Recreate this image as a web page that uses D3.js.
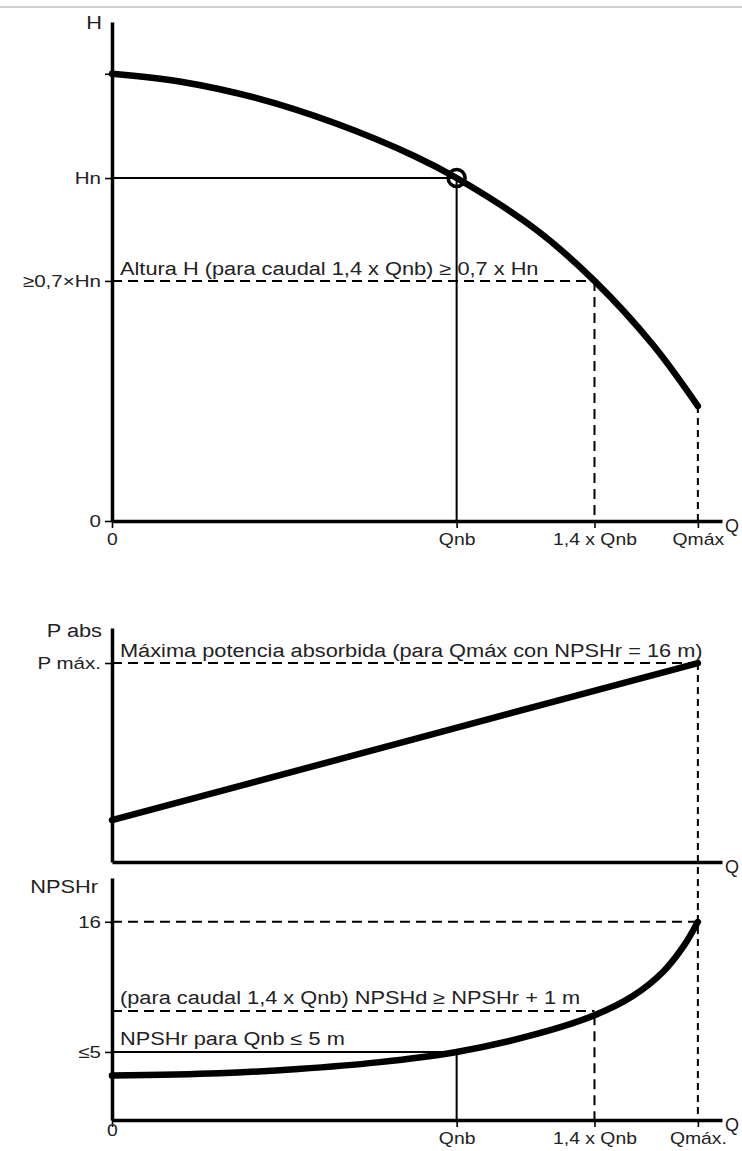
<!DOCTYPE html>
<html>
<head>
<meta charset="utf-8">
<script src="https://cdn.jsdelivr.net/npm/d3@7"></script>
<style>
  body { margin: 0; background: #fff; }
  svg { display: block; }
  text { font-family: "Liberation Sans", Arial, sans-serif; fill: #222; }
</style>
</head>
<body>
<svg id="chart" width="742" height="1151"></svg>
<script>
// ---- Flow axis, in multiples of the nominal flow Qnb ----
const flowTicks = [0, 1, 1.4, 1.7];
const flowTickLabelsUpper = ["0", "Qnb", "1,4 x Qnb", "Qmáx"];
const flowTickLabelsLower = ["0", "Qnb", "1,4 x Qnb", "Qmáx."];
const FLOW_AXIS_END = 1.77;
const Q_NB = 1, Q_14 = 1.4, Q_MAX = 1.7;

// ---- Head curve H(Q), in multiples of Hn ----
const headFlow   = [0,     0.2,   0.42,  0.65,  0.88,  1.0, 1.23, 1.4, 1.57,  1.7];
const headValues = [1.304, 1.281, 1.233, 1.159, 1.063, 1.0, 0.85, 0.7, 0.513, 0.335];
const headTicks = [0, 0.7, 1, 1.304];
const headTickLabels = ["0", "≥0,7×Hn", "Hn", ""];
const HEAD_AXIS_TOP = 1.455;
const HN = 1, H_MIN_RATIO = 0.7;

// ---- Absorbed power P(Q), in multiples of P máx ----
const powerFlow   = [0,    0.85,  1.7];
const powerValues = [0.21, 0.605, 1.0];
const powerTicks = [1];
const powerTickLabels = ["P máx."];
const POWER_AXIS_TOP = 1.176;
const P_MAX = 1;

// ---- Required NPSH curve NPSHr(Q), metres ----
const npshFlow   = [0,   0.31, 0.54, 0.77, 1.0, 1.23, 1.4, 1.51, 1.6,  1.66, 1.7];
const npshValues = [3.0, 3.2,  3.56, 4.12, 5.0, 6.5,  8.1, 9.7,  11.8, 14.0, 16.0];
const npshTicks = [5, 16];
const npshTickLabels = ["≤5", "16"];
const NPSH_AXIS_MIN = -0.75, NPSH_AXIS_MAX = 19.7;
const NPSH_NB = 5, NPSH_QMAX = 16, NPSHD_LEVEL = 8.47;

// ---- Annotation texts ----
const headNote  = "Altura H (para caudal 1,4 x Qnb) ≥ 0,7 x Hn";
const powerNote = "Máxima potencia absorbida (para Qmáx con NPSHr = 16 m)";
const npshdNote = "(para caudal 1,4 x Qnb) NPSHd ≥ NPSHr + 1 m";
const npshNote  = "NPSHr para Qnb ≤ 5 m";

// ---------------------------------------------------------------
const svg = d3.select("#chart");
const STRETCH = 1.21;            // glyphs are drawn wide
const AXIS_W = 3.5, CURVE_W = 6.5, THIN_W = 2;

// widen text horizontally around its own anchor point
function stretch(sel, k = STRETCH) {
  sel.each(function () {
    const t = d3.select(this);
    const x = +t.attr("x") || 0;
    t.attr("transform", `translate(${x * (1 - k)},0) scale(${k},1)`);
  });
}

// thin grey rule along the top of the page
svg.append("rect").attr("x", 0).attr("y", 6).attr("width", 742).attr("height", 2).attr("fill", "#cfcfcf");

const x = d3.scaleLinear().domain([0, FLOW_AXIS_END]).range([112, 722]);
const yH = d3.scaleLinear().domain([0, HEAD_AXIS_TOP]).range([521, 22]);
const yP = d3.scaleLinear().domain([0, POWER_AXIS_TOP]).range([862, 628]);
const yN = d3.scaleLinear().domain([NPSH_AXIS_MIN, NPSH_AXIS_MAX]).range([1120, 878]);

function styleAxis(g) {
  g.select(".domain").attr("stroke", "#000").attr("stroke-width", AXIS_W);
  g.selectAll(".tick line").attr("stroke", "#000").attr("stroke-width", 1.6);
  g.selectAll(".tick text").attr("fill", "#222");
}

function leftAxis(scale, ticks, labels) {
  const g = svg.append("g").attr("transform", `translate(${x(0)},0)`)
    .call(d3.axisLeft(scale).tickValues(ticks).tickFormat((d, i) => labels[i])
      .tickSize(7).tickPadding(4).tickSizeOuter(0));
  g.attr("font-family", null).attr("font-size", null);
  g.selectAll(".tick text").style("font-size", "17px");
  styleAxis(g);
  stretch(g.selectAll(".tick text"));
  return g;
}

function bottomAxis(yScale, y0, ticks, labels) {
  const g = svg.append("g").attr("transform", `translate(0,${yScale(y0)})`)
    .call(d3.axisBottom(x).tickValues(ticks).tickFormat((d, i) => labels[i])
      .tickSize(ticks.length ? 7 : 0).tickPadding(6).tickSizeOuter(0));
  g.attr("font-family", null).attr("font-size", null);
  g.selectAll(".tick text").style("font-size", "16px");
  styleAxis(g);
  stretch(g.selectAll(".tick text"));
  return g;
}

function axisTitle(text, xPos, yPos, anchor, k = STRETCH) {
  const t = svg.append("text").attr("x", xPos).attr("y", yPos)
    .attr("text-anchor", anchor).style("font-size", "18px").text(text);
  stretch(t, k);
}

function note(text, yPos) {
  const t = svg.append("text").attr("x", x(0) + 8).attr("y", yPos)
    .style("font-size", "18px").text(text);
  stretch(t);
}

function seg(x1, y1, x2, y2, dash, w = THIN_W) {
  svg.append("line").attr("x1", x1).attr("y1", y1).attr("x2", x2).attr("y2", y2)
    .attr("stroke", "#000").attr("stroke-width", w)
    .attr("stroke-dasharray", dash || null);
}

function curve(xs, ys, yScale, shape) {
  const pts = xs.map((q, i) => [q, ys[i]]);
  svg.append("path").datum(pts)
    .attr("fill", "none").attr("stroke", "#000").attr("stroke-width", CURVE_W)
    .attr("stroke-linecap", "round").attr("stroke-linejoin", "round")
    .attr("d", d3.line().x(d => x(d[0])).y(d => yScale(d[1])).curve(shape));
}

const LONG_DASH = "10,6", SHORT_DASH = "7,5";
const SMOOTH = d3.curveCatmullRom.alpha(0.5);

// ===== Head panel =====
seg(x(0), yH(HN), x(Q_NB), yH(HN));
seg(x(Q_NB), yH(HN), x(Q_NB), yH(0));
seg(x(0), yH(H_MIN_RATIO), x(Q_14), yH(H_MIN_RATIO), LONG_DASH);
seg(x(Q_14), yH(H_MIN_RATIO), x(Q_14), yH(0), LONG_DASH);
seg(x(Q_MAX), yH(headValues[headValues.length - 1]), x(Q_MAX), yH(0), SHORT_DASH);
curve(headFlow, headValues, yH, SMOOTH);
svg.append("circle").attr("cx", x(Q_NB)).attr("cy", yH(HN)).attr("r", 8.5)
  .attr("fill", "none").attr("stroke", "#000").attr("stroke-width", 3.5);
leftAxis(yH, headTicks, headTickLabels);
bottomAxis(yH, 0, flowTicks, flowTickLabelsUpper);
axisTitle("H", 102, 29, "end");
axisTitle("Q", 725, yH(0) + 11, "start", 1);
note(headNote, yH(H_MIN_RATIO) - 6);

// ===== Power panel =====
seg(x(0), yP(P_MAX), x(Q_MAX), yP(P_MAX), LONG_DASH);
seg(x(Q_MAX), yP(P_MAX), x(Q_MAX), yN(NPSH_AXIS_MIN), SHORT_DASH);
curve(powerFlow, powerValues, yP, d3.curveLinear);
leftAxis(yP, powerTicks, powerTickLabels);
bottomAxis(yP, 0, [], []);
axisTitle("P abs", 102, 637, "end");
axisTitle("Q", 725, yP(0) + 11, "start", 1);
note(powerNote, yP(P_MAX) - 6);

// ===== NPSHr panel =====
seg(x(0), yN(NPSH_QMAX), x(Q_MAX), yN(NPSH_QMAX), LONG_DASH);
seg(x(0), yN(NPSHD_LEVEL), x(Q_14), yN(NPSHD_LEVEL), LONG_DASH);
seg(x(Q_14), yN(npshValues[npshFlow.indexOf(Q_14)]), x(Q_14), yN(NPSH_AXIS_MIN), LONG_DASH);
seg(x(0), yN(NPSH_NB), x(Q_NB), yN(NPSH_NB));
seg(x(Q_NB), yN(NPSH_NB), x(Q_NB), yN(NPSH_AXIS_MIN));
curve(npshFlow, npshValues, yN, SMOOTH);
leftAxis(yN, npshTicks, npshTickLabels);
const lowerAxis = bottomAxis(yN, NPSH_AXIS_MIN, flowTicks, flowTickLabelsLower);
lowerAxis.selectAll(".tick text").filter(d => d === 0).attr("dy", "0.2em");
axisTitle("NPSHr", 98, 893, "end");
axisTitle("Q", 725, yN(NPSH_AXIS_MIN) + 11, "start", 1);
note(npshdNote, yN(NPSHD_LEVEL) - 7);
note(npshNote, yN(NPSH_NB) - 7);
</script>
</body>
</html>
